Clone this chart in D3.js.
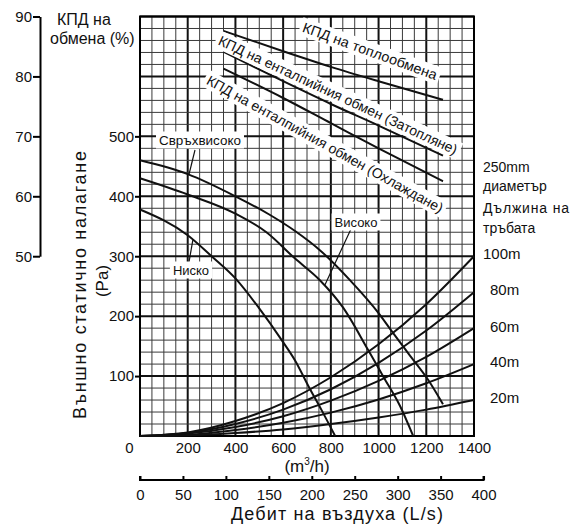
<!DOCTYPE html>
<html lang="bg">
<head>
<meta charset="utf-8">
<script src="https://cdn.jsdelivr.net/npm/d3@7"></script>
<style>
body{margin:0;background:#fff;}
svg{display:block;font-family:"Liberation Sans",Arial,sans-serif;}
</style>
</head>
<body>
<svg id="c" width="577" height="524"></svg>
<script>
// ---- data ----
const flowTicks = [0,200,400,600,800,1000,1200,1400];          // m3/h
const lsTicks = [0,50,100,150,200,250,300,350,400];             // L/s
const pressureTicks = [100,200,300,400,500];                    // Pa
const effTicks = [50,60,70,80,90];                              // %

// fan curves [flow m3/h, pressure Pa]
const fanSuperHigh = [[0,460],[200,437],[400,400],[540,370],[650,342],[760,308],[880,260],[1000,205],[1055,175],[1130,135],[1209,93],[1270,53]];
const fanHigh = [[0,430],[200,403],[400,371],[530,340],[650,296],[754,260],[850,215],[957,143],[1020,99],[1090,50],[1145,0]];
const fanLow = [[0,378],[200,335],[300,300],[400,263],[496,215],[594,160],[650,126],[705,84],[760,44],[818,0]];

// duct resistance curves (250mm diameter) [flow, pressure]
const duct100 = [[0,0],[200,6],[400,25],[600,55],[800,98],[1000,153],[1200,220],[1400,300]];
const duct80 = [[0,0],[200,5],[400,20],[600,44],[800,78],[1000,122],[1200,176],[1400,240]];
const duct60 = [[0,0],[200,4],[400,15],[600,33],[800,59],[1000,92],[1200,132],[1400,180]];
const duct40 = [[0,0],[200,2],[400,10],[600,22],[800,39],[1000,61],[1200,88],[1400,120]];
const duct20 = [[0,0],[200,1],[400,5],[600,11],[800,20],[1000,31],[1200,44],[1400,60]];
const ductLabels = ["100m","80m","60m","40m","20m"];

// efficiency curves [flow, %]
const effHeat = [[350,87.6],[600,84.2],[800,81.6],[1000,79.2],[1270,76.1]];
const effEnthHeating = [[350,84.1],[600,79.2],[800,75.4],[1000,71.8],[1270,66.8]];
const effEnthCooling = [[350,81.3],[600,76.4],[800,72.2],[1000,68.0],[1270,62.5]];

// ---- scales ----
const svg = d3.select("#c");
const x = d3.scaleLinear([0,1400],[140,474]);
const y = d3.scaleLinear([0,700],[436,16.5]);
const yEff = d3.scaleLinear([50,90],[y(300),y(700)]);
const xLs = d3.scaleLinear([0,400],[x(0),x(1440)]);
const fmt = d3.format("d");

// ---- grid ----
const g = svg.append("g");
d3.range(0,1401,50).forEach(v=>{
  const major = v%200===0;
  g.append("line").attr("x1",x(v)).attr("x2",x(v)).attr("y1",y(0)).attr("y2",y(700))
   .attr("stroke",major?"#111":"#3a3a3a").attr("stroke-width",major?2:1);
});
d3.range(0,701,20).forEach(v=>{
  const major = v%100===0;
  g.append("line").attr("x1",x(0)).attr("x2",x(1400)).attr("y1",y(v)).attr("y2",y(v))
   .attr("stroke",major?"#111":"#3a3a3a").attr("stroke-width",major?2:1);
});
g.append("rect").attr("x",x(0)).attr("y",y(700)).attr("width",x(1400)-x(0)).attr("height",y(0)-y(700))
 .attr("fill","none").attr("stroke","#000").attr("stroke-width",2);

// ---- curves ----
const line = d3.line().x(d=>x(d[0])).y(d=>y(d[1])).curve(d3.curveMonotoneX);
const lineEff = d3.line().x(d=>x(d[0])).y(d=>yEff(d[1])).curve(d3.curveMonotoneX);
const curves = svg.append("g").attr("fill","none").attr("stroke","#111").attr("stroke-width",2);
[fanSuperHigh,fanHigh,fanLow,duct100,duct80,duct60,duct40,duct20].forEach(s=>curves.append("path").attr("d",line(s)));
[effHeat,effEnthHeating,effEnthCooling].forEach(s=>curves.append("path").attr("d",lineEff(s)));

// ---- axes ----
const axP = svg.append("g").attr("transform",`translate(${x(0)},0)`)
  .call(d3.axisLeft(y).tickValues(pressureTicks).tickFormat(fmt).tickSize(5).tickPadding(1).tickSizeOuter(0));
axP.select(".domain").remove();
axP.selectAll("line").attr("stroke","#000").attr("stroke-width",2);
axP.selectAll("text").attr("font-size",15).attr("font-family","Liberation Sans").attr("fill","#111");

const axE = svg.append("g").attr("transform","translate(40,0)")
  .call(d3.axisLeft(yEff).tickValues(effTicks).tickFormat(fmt).tickSize(7).tickPadding(1).tickSizeOuter(0));
axE.select(".domain").attr("stroke","#000").attr("stroke-width",2);
axE.selectAll("line").attr("stroke","#000").attr("stroke-width",2);
axE.selectAll("text").attr("font-size",15).attr("font-family","Liberation Sans").attr("fill","#111");

const axQ = svg.append("g").attr("transform",`translate(0,${y(0)})`)
  .call(d3.axisBottom(x).tickValues(flowTicks).tickFormat(fmt).tickSize(0).tickPadding(6).tickSizeOuter(0));
axQ.select(".domain").remove();
axQ.selectAll("text").attr("font-size",15).attr("font-family","Liberation Sans").attr("fill","#111")
  .attr("dx",d=>d===0?-11:0);

const axL = svg.append("g").attr("transform","translate(0,480)")
  .call(d3.axisTop(xLs).tickValues(lsTicks).tickFormat(fmt).tickSize(4).tickSizeOuter(0));
axL.select(".domain").attr("stroke","#000").attr("stroke-width",2).attr("d",`M${xLs(0)},-4V0H${xLs(400)}V-4`);
axL.selectAll("line").attr("stroke","#000").attr("stroke-width",2);
axL.selectAll("text").attr("font-size",15).attr("font-family","Liberation Sans").attr("fill","#111")
  .attr("y",15).attr("dy","0.32em");

// ---- texts ----
function txt(s,xp,yp,size,anchor){
  return svg.append("text").attr("x",xp).attr("y",yp).attr("font-size",size)
    .attr("text-anchor",anchor||"start").attr("dominant-baseline","central").attr("fill","#111").text(s);
}
txt("КПД на",57,19,16);
txt("обмена (%)",50,38,16);
svg.append("text").attr("transform","translate(80,285) rotate(-90)").attr("text-anchor","middle")
  .attr("dominant-baseline","central").attr("font-size",18).attr("fill","#111")
  .attr("textLength",268).attr("lengthAdjust","spacing").text("Външно статично налагане");
svg.append("text").attr("transform","translate(102,281) rotate(-90)").attr("text-anchor","middle")
  .attr("dominant-baseline","central").attr("font-size",17).attr("fill","#111").text("(Pa)");
const m3 = svg.append("text").attr("x",x(700)).attr("y",466).attr("text-anchor","middle")
  .attr("dominant-baseline","central").attr("font-size",17).attr("fill","#111");
m3.append("tspan").text("(m");
m3.append("tspan").attr("font-size",10).attr("dy",-5).text("3");
m3.append("tspan").attr("dy",5).text("/h)");
txt("Дебит на въздуха (L/s)",337,514,18,"middle").attr("textLength",212).attr("lengthAdjust","spacing");

// right labels
txt("250mm",483,167,14);
txt("диаметър",483,186,14);
txt("Дължина на",483,208,14).attr("textLength",86).attr("lengthAdjust","spacing");
txt("тръбата",483,228,14);
ductLabels.forEach((l,i)=>txt(l,i===0?483:490,[253,289,326,361,397][i],15));

// boxed labels
function boxLabel(s,cx,cy,angle,size,len){
  const gg = svg.append("g").attr("transform",`translate(${cx},${cy}) rotate(${angle})`);
  const r = gg.append("rect").attr("fill","#fff");
  const t = gg.append("text").attr("text-anchor","middle").attr("dominant-baseline","central")
    .attr("font-size",size).attr("fill","#111").text(s);
  if(len) t.attr("textLength",len).attr("lengthAdjust","spacingAndGlyphs");
  const b = t.node().getBBox();
  r.attr("x",b.x-3).attr("y",b.y-1).attr("width",b.width+6).attr("height",b.height+2);
  return gg;
}
// leader lines first (under boxes)
const leaders = svg.append("g").attr("stroke","#111").attr("stroke-width",1.2);
leaders.append("line").attr("x1",195).attr("y1",150).attr("x2",x(205)).attr("y2",y(436));
leaders.append("line").attr("x1",189).attr("y1",262).attr("x2",x(222)).attr("y2",y(328));
leaders.append("line").attr("x1",351).attr("y1",229).attr("x2",x(775)).attr("y2",y(252));

boxLabel("Свръхвисоко",200,140,0,13,82);
boxLabel("Ниско",191,270,0,13);
boxLabel("Високо",356,222,0,13);

boxLabel("КПД на топлообмена",370,51,20,14,142);
boxLabel("КПД на енталпийния обмен (Затопляне)",338,95,25,14,262);
boxLabel("КПД на енталпийния обмен (Охлаждане)",325,144,29,14,268);
</script>
</body>
</html>
